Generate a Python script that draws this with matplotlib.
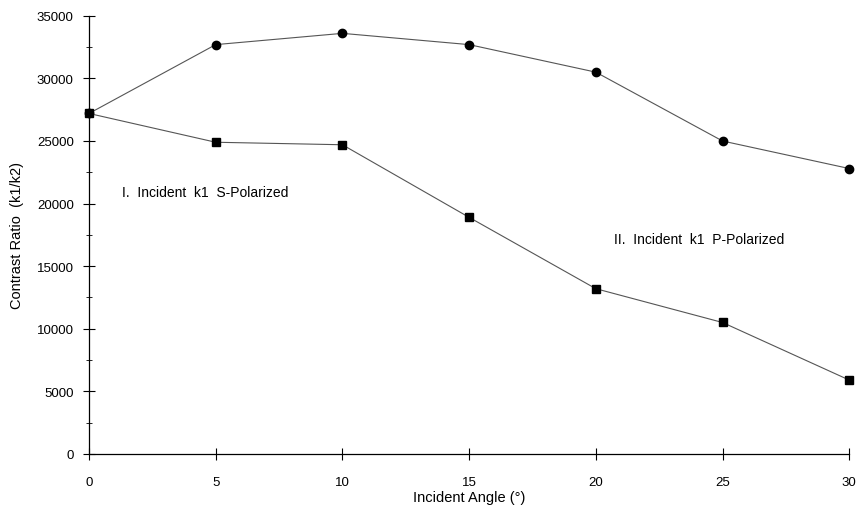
import matplotlib.pyplot as plt
from matplotlib.ticker import MultipleLocator

plt.rcParams['font.family'] = ['Liberation Sans', 'DejaVu Sans']

# --- data ---
angles = [0, 5, 10, 15, 20, 25, 30]
p_polarized = [27200, 32700, 33600, 32700, 30500, 25000, 22800]
s_polarized = [27200, 24900, 24700, 18900, 13200, 10500, 5900]

fig = plt.figure(figsize=(8.6, 5.1), dpi=100)
ax = fig.add_axes([0.1035, 0.108, 0.884, 0.859])

# gray connecting lines with black markers
ax.plot(angles, p_polarized, color="#555555", lw=0.8, marker="o", ms=6,
        mfc="black", mec="black")
ax.plot(angles, s_polarized, color="#555555", lw=0.8, marker="s", ms=5.5,
        mfc="black", mec="black")

ax.text(1.3, 20900, "I.  Incident  k1  S-Polarized", fontsize=10, va="center")
ax.text(20.7, 17200, "II.  Incident  k1  P-Polarized", fontsize=10, va="center")

ax.set_xlim(0, 30)
ax.set_ylim(0, 35000)
ax.xaxis.set_major_locator(MultipleLocator(5))
ax.yaxis.set_major_locator(MultipleLocator(5000))
ax.yaxis.set_minor_locator(MultipleLocator(2500))
ax.tick_params(which="major", direction="inout", length=8, width=0.8, labelsize=9.5)
ax.tick_params(which="minor", direction="inout", length=4, width=0.6)
ax.tick_params(axis="x", pad=12)
ax.tick_params(axis="y", pad=7)

for side in ["top", "right"]:
    ax.spines[side].set_visible(False)
for side in ["left", "bottom"]:
    ax.spines[side].set_linewidth(0.9)

ax.set_xlabel("Incident Angle (°)", fontsize=10.5, labelpad=1)
ax.set_ylabel("Contrast Ratio  (k1/k2)", fontsize=10.5, labelpad=9)

for line in ax.lines:
    line.set_clip_on(False)

fig.savefig("out.png", dpi=100)
